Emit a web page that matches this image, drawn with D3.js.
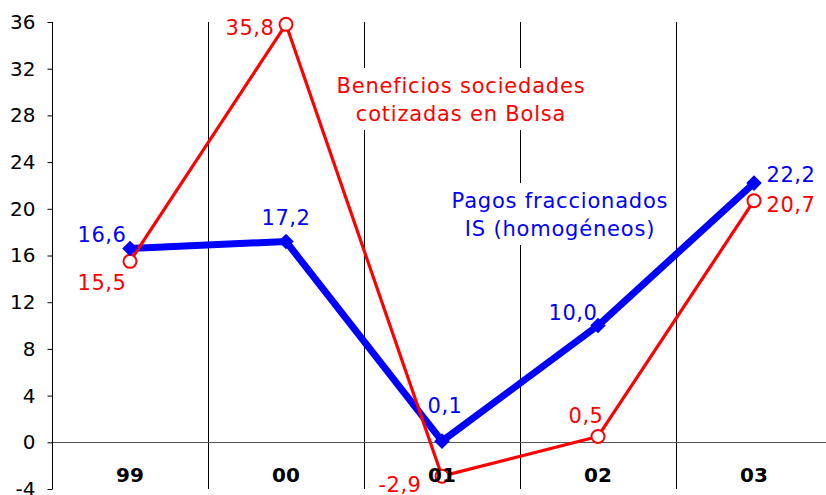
<!DOCTYPE html>
<html>
<head>
<meta charset="utf-8">
<script src="https://cdn.jsdelivr.net/npm/d3@7"></script>
<style>
  html, body { margin: 0; padding: 0; background: #fff; }
  svg { display: block; }
  text { font-family: "DejaVu Sans", Verdana, sans-serif; }
</style>
</head>
<body>
<svg id="chart" width="826" height="495"></svg>
<script>
// ---- data ----
const categories = ["99", "00", "01", "02", "03"];
const beneficios = [15.5, 35.8, -2.9, 0.5, 20.7];   // Beneficios sociedades cotizadas en Bolsa
const pagos = [16.6, 17.2, 0.1, 10.0, 22.2];        // Pagos fraccionados IS (homogéneos)
const yTicks = [-4, 0, 4, 8, 12, 16, 20, 24, 28, 32, 36];
const beneficiosLabel = ["Beneficios sociedades", "cotizadas en Bolsa"];
const pagosLabel = ["Pagos fraccionados", "IS (homogéneos)"];

const fmt = v => d3.format(".1f")(v).replace(".", ",").replace("\u2212", "-");
const fmtTick = v => d3.format("d")(v).replace("\u2212", "-");

const svg = d3.select("#chart");
const x = d3.scaleBand().domain(categories).range([52, 832]);
const y = d3.scaleLinear().domain([-4, 36]).range([489, 22]);
const cx = c => x(c) + x.bandwidth() / 2;

const RED = "#ff0000", BLUE = "#0000ff";

// separators between categories
svg.append("g").selectAll("line")
  .data(categories.slice(1))
  .join("line")
  .attr("x1", d => Math.round(x(d)) + 0.5).attr("x2", d => Math.round(x(d)) + 0.5)
  .attr("y1", y(36)).attr("y2", y(-4))
  .attr("stroke", "#000").attr("stroke-width", 1);

// zero line
svg.append("line")
  .attr("x1", 52).attr("x2", 826)
  .attr("y1", Math.round(y(0)) + 0.5).attr("y2", Math.round(y(0)) + 0.5)
  .attr("stroke", "#555").attr("stroke-width", 1.2);

// y axis
const yAxis = svg.append("g")
  .attr("transform", "translate(52.5,0)")
  .call(d3.axisLeft(y).tickValues(yTicks).tickSize(5).tickPadding(12).tickFormat(fmtTick));
yAxis.select(".domain").attr("stroke", "#000").attr("d", `M0,${y(36)}V${y(-4)}`);
yAxis.selectAll(".tick line").attr("stroke", "#000");
yAxis.selectAll(".tick text")
  .attr("font-size", 20).attr("fill", "#000")
  .attr("font-family", "DejaVu Sans, Verdana, sans-serif");

// annotation boxes (white background)
function annot(lines, cxPos, baseline, color) {
  const g = svg.append("g");
  const rect = g.append("rect").attr("fill", "#fff");
  const t = g.append("text")
    .attr("text-anchor", "middle")
    .attr("font-size", 21)
    .attr("letter-spacing", 0.8)
    .attr("fill", color);
  lines.forEach((l, i) => {
    t.append("tspan").attr("x", cxPos).attr("y", baseline + i * 28).text(l);
  });
  const bb = t.node().getBBox();
  rect.attr("x", bb.x - 6).attr("y", bb.y - 6)
      .attr("width", bb.width + 12).attr("height", bb.height + 10);
}
annot(beneficiosLabel, 461, 93, RED);
annot(pagosLabel, 560, 208, BLUE);

// lines
const line = vals => d3.line().x((d, i) => cx(categories[i])).y(d => y(d))(vals);

svg.append("path").attr("d", line(pagos))
  .attr("fill", "none").attr("stroke", BLUE).attr("stroke-width", 7)
  .attr("stroke-linejoin", "round");

svg.append("path").attr("d", line(beneficios))
  .attr("fill", "none").attr("stroke", RED).attr("stroke-width", 3.2)
  .attr("stroke-linejoin", "round");

// red circle markers
svg.append("g").selectAll("circle")
  .data(beneficios)
  .join("circle")
  .attr("cx", (d, i) => cx(categories[i])).attr("cy", d => y(d))
  .attr("r", 6.5)
  .attr("fill", "#fff").attr("stroke", RED).attr("stroke-width", 2);

// blue diamond markers
svg.append("g").selectAll("path")
  .data(pagos)
  .join("path")
  .attr("transform", (d, i) => `translate(${cx(categories[i])},${y(d)}) rotate(45)`)
  .attr("d", "M-5.5,-5.5H5.5V5.5H-5.5Z")
  .attr("fill", BLUE);

// category labels
svg.append("g").selectAll("text")
  .data(categories)
  .join("text")
  .attr("x", d => cx(d)).attr("y", 482)
  .attr("text-anchor", "middle")
  .attr("font-size", 20).attr("font-weight", "bold")
  .attr("fill", "#000")
  .text(d => d);

// value labels: offsets per point (dx, dy) relative to marker
const benOffsets = [[-28, 29], [-36, 11], [-42, 16], [-12, -13], [37, 11]];
const pagOffsets = [[-28, -6], [0, -16], [3, -28], [-25, -6], [37, -1]];

svg.append("g").selectAll("text")
  .data(pagos)
  .join("text")
  .attr("x", (d, i) => cx(categories[i]) + pagOffsets[i][0])
  .attr("y", (d, i) => y(d) + pagOffsets[i][1])
  .attr("text-anchor", "middle")
  .attr("font-size", 21).attr("letter-spacing", 0.5).attr("fill", BLUE)
  .text(d => fmt(d));

svg.append("g").selectAll("text")
  .data(beneficios)
  .join("text")
  .attr("x", (d, i) => cx(categories[i]) + benOffsets[i][0])
  .attr("y", (d, i) => y(d) + benOffsets[i][1])
  .attr("text-anchor", "middle")
  .attr("font-size", 21).attr("letter-spacing", 0.5).attr("fill", RED)
  .text(d => fmt(d));
</script>
</body>
</html>
